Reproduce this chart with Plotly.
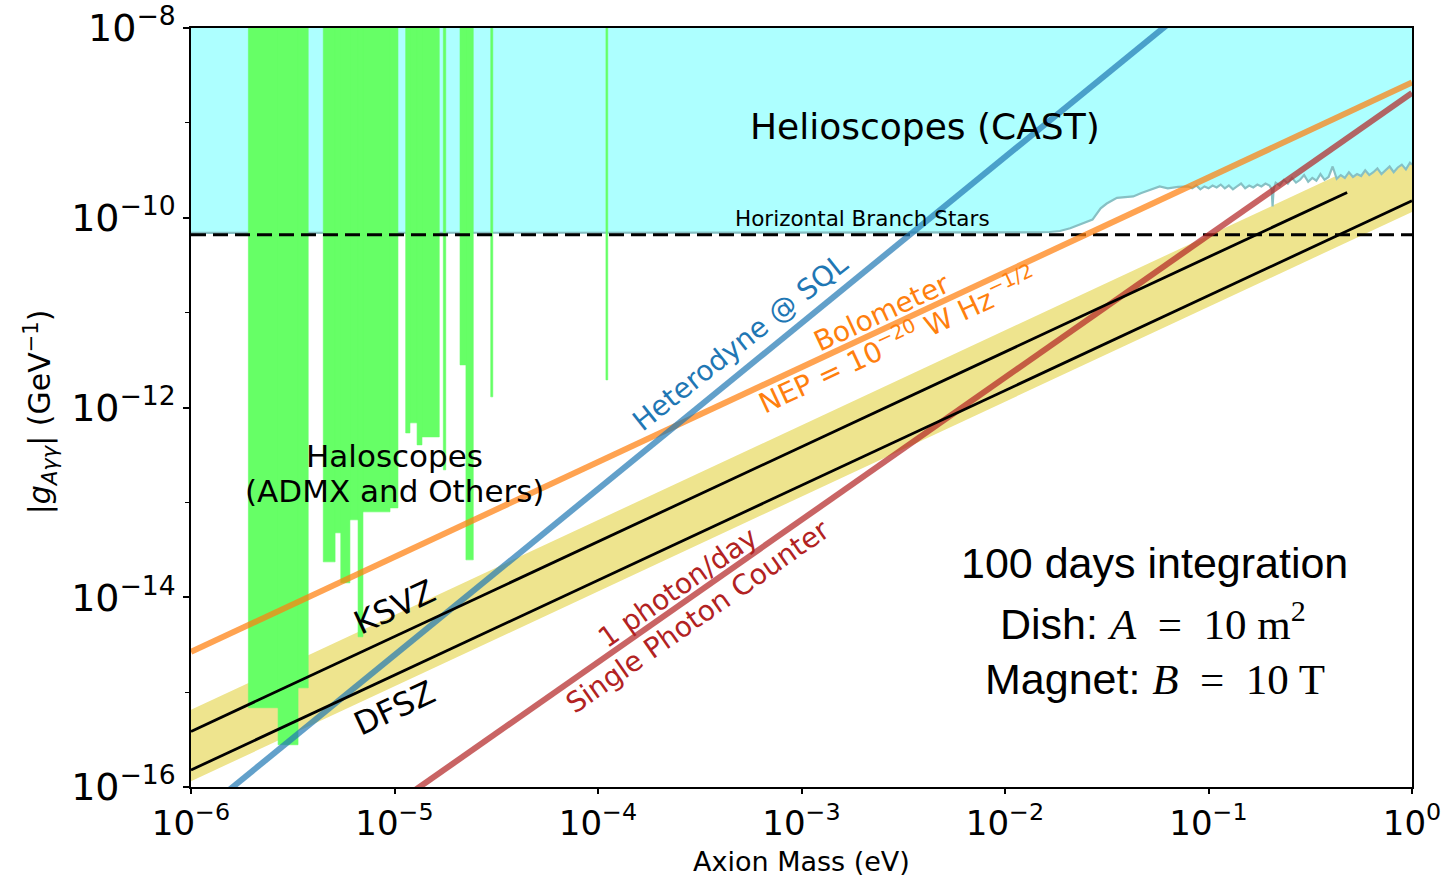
import numpy as np
import plotly.graph_objects as go

# ---------------- tick labels ----------------
x_tickvals = [1e-6, 1e-5, 1e-4, 1e-3, 1e-2, 1e-1, 1e0]
x_ticktext = ["10<sup>−6</sup>", "10<sup>−5</sup>", "10<sup>−4</sup>", "10<sup>−3</sup>",
              "10<sup>−2</sup>", "10<sup>−1</sup>", "10<sup>0</sup>"]
y_tickvals = [1e-16, 1e-14, 1e-12, 1e-10, 1e-8]
y_ticktext = ["10<sup>−16</sup>", "10<sup>−14</sup>", "10<sup>−12</sup>", "10<sup>−10</sup>", "10<sup>−8</sup>"]
y_minor = [1e-15, 1e-13, 1e-11, 1e-9]

# ---------------- straight sensitivity / model lines (mass eV, |g| GeV^-1) ----------------
ksvz_m = [1e-6, 0.48]
ksvz_g = [3.85e-16, 1.85e-10]
dfsz_m = [1e-6, 1.0]
dfsz_g = [1.51e-16, 1.51e-10]
band_m = [1e-6, 1.0]
band_top = [6.5e-16, 6.5e-10]
band_bot = [1.15e-16, 1.15e-10]
bolo_m = [1e-6, 1.0]
bolo_g = [2.66e-15, 2.66e-9]
het_m = [1e-6, 1e-1]
het_g = [4.37e-17, 2.45e-8]
spc_m = [1e-6, 1.0]
spc_g = [2.07e-18, 2.07e-9]
hb_g = 6.6e-11

# ---------------- CAST helioscope limit (log10 m, log10 g) ----------------
cast_logm = [-6.0, -2.2, -1.85, -1.78, -1.73, -1.68, -1.62, -1.57, -1.53, -1.50, -1.45, -1.40,
             -1.37, -1.33, -1.29, -1.24, -1.20, -1.15,
             -1.10, -1.08, -1.06, -1.04, -1.02, -1.00, -0.98, -0.96, -0.94, -0.92, -0.90, -0.88,
             -0.86, -0.84, -0.82, -0.80, -0.78, -0.76, -0.74, -0.72, -0.70, -0.69, -0.685, -0.68,
             -0.67, -0.65, -0.63, -0.61, -0.59, -0.57, -0.55, -0.53, -0.51, -0.49, -0.47, -0.45,
             -0.43, -0.41, -0.39, -0.37, -0.35, -0.33, -0.31, -0.29, -0.27, -0.25, -0.23, -0.21,
             -0.19, -0.17, -0.15, -0.13, -0.11, -0.09, -0.07, -0.05, -0.03, -0.01, 0.0]
cast_logg = [-10.16, -10.16, -10.155, -10.15, -10.14, -10.11, -10.06, -10.02, -9.90, -9.85, -9.79, -9.785,
             -9.775, -9.74, -9.71, -9.67, -9.69, -9.675,
             -9.67, -9.69, -9.66, -9.70, -9.67, -9.69, -9.66, -9.68, -9.65, -9.69, -9.66, -9.70,
             -9.67, -9.64, -9.69, -9.66, -9.68, -9.65, -9.67, -9.64, -9.66, -9.70, -9.88, -9.70,
             -9.63, -9.66, -9.60, -9.64, -9.58, -9.63, -9.60, -9.55, -9.62, -9.58, -9.61, -9.54,
             -9.60, -9.57, -9.46, -9.59, -9.55, -9.58, -9.52, -9.57, -9.54, -9.56, -9.50, -9.55,
             -9.52, -9.48, -9.54, -9.50, -9.46, -9.52, -9.47, -9.44, -9.49, -9.42, -9.44]

# ---------------- haloscope exclusions (log10 m range, log10 g lower edge) ----------------
halo_logm_lo = [-5.718, -5.572, -5.474, -5.350, -5.292, -5.264, -5.219, -5.179, -5.155, -5.022,
                -4.945, -4.924, -4.889, -4.865, -4.760, -4.678, -4.649, -4.527, -3.961]
halo_logm_hi = [-5.572, -5.474, -5.424, -5.292, -5.264, -5.219, -5.179, -5.155, -5.022, -4.983,
                -4.924, -4.889, -4.865, -4.780, -4.748, -4.649, -4.613, -4.517, -3.952]
halo_logg_lo = [-15.165, -15.555, -14.955, -13.627, -13.321, -13.848, -13.184, -14.417, -13.100, -13.058,
                -12.268, -12.162, -12.394, -12.310, -12.657, -11.551, -13.606, -11.888, -11.709]

TOP = 1e-7
FONT = "DejaVu Sans"

fig = go.Figure()

# QCD axion band
fig.add_trace(go.Scatter(x=band_m + band_m[::-1], y=band_top + band_bot[::-1], fill="toself",
                         fillcolor="rgb(238,228,142)", line=dict(width=0), mode="lines",
                         hoverinfo="skip", showlegend=False))

# CAST fill
cm = list(10 ** np.array(cast_logm))
cg = list(10 ** np.array(cast_logg))
fig.add_trace(go.Scatter(x=cm + [cm[-1], cm[0]], y=cg + [TOP, TOP], fill="toself",
                         fillcolor="rgb(173,255,255)", line=dict(width=0), mode="lines",
                         hoverinfo="skip", showlegend=False))
fig.add_trace(go.Scatter(x=cm, y=cg, mode="lines", line=dict(color="rgb(135,192,196)", width=2.2),
                         hoverinfo="skip", showlegend=False))

# Haloscopes
hx, hy = [], []
for lo, hi, gl in zip(halo_logm_lo, halo_logm_hi, halo_logg_lo):
    a, b, g = 10 ** lo, 10 ** hi, 10 ** gl
    hx += [a, a, b, b, a, None]
    hy += [TOP, g, g, TOP, TOP, None]
fig.add_trace(go.Scatter(x=hx, y=hy, fill="toself", fillcolor="rgb(102,255,102)",
                         line=dict(width=0.6, color="rgb(102,255,102)"), mode="lines",
                         hoverinfo="skip", showlegend=False))

# Horizontal branch stars
fig.add_trace(go.Scatter(x=[1e-6, 1.0], y=[hb_g, hb_g], mode="lines",
                         line=dict(color="black", width=3, dash="15px,7px"),
                         hoverinfo="skip", showlegend=False))

# Sensitivity lines
fig.add_trace(go.Scatter(x=bolo_m, y=bolo_g, mode="lines",
                         line=dict(color="rgba(255,127,14,0.72)", width=6), showlegend=False))
fig.add_trace(go.Scatter(x=het_m, y=het_g, mode="lines",
                         line=dict(color="rgba(31,119,180,0.7)", width=6), showlegend=False))
fig.add_trace(go.Scatter(x=spc_m, y=spc_g, mode="lines",
                         line=dict(color="rgba(178,34,34,0.7)", width=6), showlegend=False))

# Model lines
fig.add_trace(go.Scatter(x=ksvz_m, y=ksvz_g, mode="lines", line=dict(color="black", width=2.8),
                         showlegend=False))
fig.add_trace(go.Scatter(x=dfsz_m, y=dfsz_g, mode="lines", line=dict(color="black", width=2.8),
                         showlegend=False))

def ann(x, y, text, size, color="black", angle=0, family=FONT):
    fig.add_annotation(x=x, y=y, xref="x", yref="y", text=text, showarrow=False,
                       textangle=angle, xanchor="center", yanchor="middle",
                       font=dict(family=family, size=size, color=color))

ann(-2.393, -9.033, "Helioscopes (CAST)", 36)
ann(-2.698, -10.013, "Horizontal Branch Stars", 21.5)
ann(-4.998, -12.510, "Haloscopes", 31)
ann(-4.998, -12.879, "(ADMX and Others)", 31)
ann(-3.302, -11.319, "Heterodyne @ SQL", 28, "#1f77b4", -38.5)
ann(-2.604, -11.003, "Bolometer", 28, "#ff7f0e", -25)
ann(-2.526, -11.288, "NEP = 10<sup>−20</sup> W Hz<sup>−1/2</sup>", 28, "#ff7f0e", -25)
ann(-4.998, -14.101, "KSVZ", 32, "black", -25)
ann(-4.998, -15.165, "DFSZ", 32, "black", -25)
ann(-3.607, -13.901, "1 photon/day", 28, "#b22222", -35)
ann(-3.509, -14.206, "Single Photon Counter", 28, "#b22222", -35)

SERIF = "font-family:'Liberation Serif', 'DejaVu Serif', serif"
ann(-1.263, -13.637, "100 days integration", 43, family="Liberation Sans")
ann(-1.273, -14.249, "Dish: <span style=\"%s\"><i>A</i>&nbsp;&nbsp;=&nbsp;&nbsp;10 m<sup>2</sup></span>" % SERIF, 43,
    family="Liberation Sans")
ann(-1.263, -14.860, "Magnet: <span style=\"%s\"><i>B</i>&nbsp;&nbsp;=&nbsp;&nbsp;10 T</span>" % SERIF, 43,
    family="Liberation Sans")

# axis titles
fig.add_annotation(xref="paper", yref="paper", x=0.5, y=-0.098, text="Axion Mass (eV)",
                   showarrow=False, xanchor="center", yanchor="middle",
                   font=dict(family=FONT, size=27, color="black"))
fig.add_annotation(xref="paper", yref="paper", x=-0.1237, y=0.495,
                   text="|<i>g</i><sub><i>Aγγ</i></sub>| (GeV<sup>−1</sup>)", textangle=-90,
                   showarrow=False, xanchor="center", yanchor="middle",
                   font=dict(family=FONT, size=30, color="black"))

fig.update_layout(
    width=1456, height=879,
    margin=dict(l=191, r=44, t=28, b=92, autoexpand=False),
    paper_bgcolor="white", plot_bgcolor="white",
    font=dict(family=FONT, color="black"),
    xaxis=dict(type="log", range=[-6, 0], tickmode="array", tickvals=x_tickvals, ticktext=x_ticktext,
               ticks="outside", ticklen=5, tickwidth=1.5, tickcolor="black", automargin=False,
               showline=True, linecolor="black", linewidth=1.5, mirror=True, ticklabelstandoff=0,
               showgrid=False, zeroline=False, tickfont=dict(family=FONT, size=34)),
    yaxis=dict(type="log", range=[-16, -8], tickmode="array", tickvals=y_tickvals, ticktext=y_ticktext,
               ticks="outside", ticklen=6, tickwidth=1.5, tickcolor="black", automargin=False,
               minor=dict(tickmode="array", tickvals=y_minor, ticks="outside", ticklen=4,
                          tickwidth=1.2, tickcolor="black", showgrid=False),
               showline=True, linecolor="black", linewidth=1.5, mirror=True,
               showgrid=False, zeroline=False, tickfont=dict(family=FONT, size=38)),
)

fig.write_html("out.html", config={"displayModeBar": False},
               post_script="document.body.style.margin='0';document.body.style.overflow='hidden';")
